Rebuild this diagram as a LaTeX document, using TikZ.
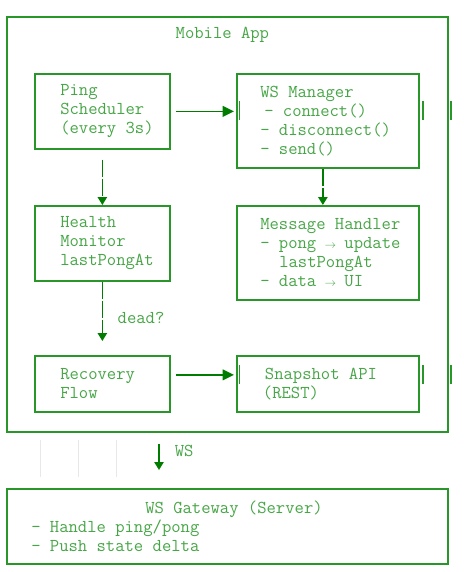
\documentclass[tikz,border=0pt]{standalone}
\usetikzlibrary{arrows.meta,positioning}

\definecolor{boxgreen}{RGB}{40,150,40}
\definecolor{txtgreen}{RGB}{70,165,70}
\definecolor{arrgreen}{RGB}{0,125,0}
\definecolor{ghostgray}{RGB}{232,232,232}

\newcommand{\smallarr}{\makebox[7.1pt]{\scalebox{0.6}{$\rightarrow$}}}

\tikzset{
  box/.style={draw=boxgreen, line width=1.3pt, rectangle, inner sep=0pt, anchor=north west},
  txt/.style={text=txtgreen, font=\fontsize{13.6}{14.25}\selectfont\ttfamily, align=left, inner sep=0pt, anchor=west},
  flow/.style={draw=arrgreen, line width=1.2pt, -{Triangle[length=8.5pt,width=8pt]}},
  down/.style={draw=arrgreen, line width=1.2pt, dash pattern=on 12.75pt off 1.5pt, -{Triangle[length=6pt,width=7pt]}},
  tick/.style={draw=boxgreen, line width=1.3pt},
}

\begin{document}
\begin{tikzpicture}[x=0.75pt, y=-0.75pt]
        \useasboundingbox (0,0) rectangle (464,572);

        % === MOBILE APP ===
        \node[box, minimum width=330.75pt, minimum height=311.25pt] (app) at (6,16) {};
        \node[txt, anchor=center] (apptitle) at ([xshift=-3.75pt, yshift=-14.25pt]app.north) {Mobile App};

        % === LEFT COLUMN ===
        \node[box, minimum width=101.25pt, minimum height=56.25pt] (ping) at (34,73) {};
        \node[txt] (pingtxt) at ([xshift=19.5pt]ping.west) {Ping\\Scheduler\\(every 3s)};

        \node[box, minimum width=101.25pt, minimum height=56.25pt] (health) at (34,205) {};
        \node[txt] (healthtxt) at ([xshift=19.5pt]health.west) {Health\\Monitor\\lastPongAt};

        \node[box, minimum width=101.25pt, minimum height=42pt] (rec) at (34,355) {};
        \node[txt] (rectxt) at ([xshift=19.5pt]rec.west) {Recovery\\Flow};

        % === RIGHT COLUMN ===
        \node[box, minimum width=136.5pt, minimum height=70.5pt] (wsm) at (236,73) {};
        \node[txt] (wsmtxt) at ([xshift=18pt]wsm.west)
            {WS Manager\\\hspace*{3pt}- connect()\\- disconnect()\\- send()};

        \node[box, minimum width=136.5pt, minimum height=70.5pt] (msg) at (236,205) {};
        \node[txt] (msgtxt) at ([xshift=18pt]msg.west)
            {Message Handler\\- pong \smallarr{} update\\\hspace*{14.25pt}lastPongAt\\- data \smallarr{} UI};

        \node[box, minimum width=136.5pt, minimum height=42pt] (snap) at (236,355) {};
        \node[txt] (snaptxt) at ([xshift=20pt]snap.west) {\hspace*{1.5pt}Snapshot API\\(REST)};

        % === SERVER ===
        \node[box, minimum width=330.75pt, minimum height=56.25pt] (gw) at (6,488) {};
        \node[txt] (gwtxt) at ([xshift=18.75pt]gw.west)
            {\hspace*{85.5pt}WS Gateway (Server)\\- Handle ping/pong\\- Push state delta};

        % === CONNECTORS ===
        \draw[flow, shorten <=3.75pt, shorten >=1.5pt] (ping.east) -- (ping.east -| wsm.west);
        \draw[flow, shorten <=3.75pt, shorten >=1.5pt] ([yshift=6.75pt]rec.east) -- ([yshift=6.75pt]snap.west);
        \draw[down, shorten <=7.5pt] (ping.south) -- (health.north);
        \draw[down] ([xshift=-3.75pt]wsm.south) -- ([xshift=-3.75pt]msg.north);
        \draw[down, shorten >=10.5pt] (health.south) -- (rec.north)
            node[txt, midway, right=10.9pt] (deadlbl) {dead?};

        \coordinate (wscol) at (159,0);
        \draw[flow, -{Triangle[length=6pt,width=7pt]}, shorten <=8.25pt, shorten >=13.5pt]
            (app.south -| wscol) -- (gw.north -| wscol)
            node[txt, pos=0.33, right=11.25pt] (wslbl) {WS};

        % === STRAY BARS ===
        \foreach \yy in {101,365} {
            \foreach \xx in {239.5,423,451}
                \draw[tick] (\xx,\yy) -- (\xx,\yy+19);
        }
        \foreach \xx in {40,78,116}
            \draw[ghostgray, line width=0.75pt] (\xx,440) -- (\xx,477);

    \end{tikzpicture}
\end{document}
